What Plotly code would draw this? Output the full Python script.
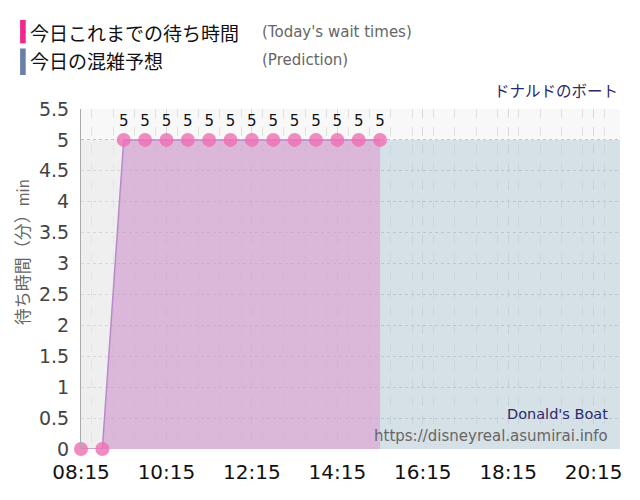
import plotly.graph_objects as go

DAY = "2024-05-01 "

# today's observed wait times (min)
wait_times = ["08:15", "08:45", "09:15", "09:45", "10:15", "10:45", "11:15", "11:45",
              "12:15", "12:45", "13:15", "13:45", "14:15", "14:45", "15:15"]
wait_values = [0, 0, 5, 5, 5, 5, 5, 5, 5, 5, 5, 5, 5, 5, 5]

# prediction (min)
pred_times = ["08:15", "08:45", "09:15", "09:45", "10:15", "10:45", "11:15", "11:45",
              "12:15", "12:45", "13:15", "13:45", "14:15", "14:45", "15:15", "15:45",
              "16:15", "16:45", "17:15", "17:45", "18:15", "18:45", "19:15", "19:45",
              "20:15", "20:45", "20:52"]
pred_values = [5] * 27

now_idx = pred_times.index(wait_times[-1])

JP = "Noto Sans CJK JP, sans-serif"

fig = go.Figure()

# prediction before "now" (greyed out) and after
fig.add_trace(go.Scatter(
    x=[DAY + t for t in pred_times[:now_idx + 1]], y=pred_values[:now_idx + 1],
    mode="lines", line=dict(width=0, shape="hv"), fill="tozeroy",
    fillcolor="rgba(232,232,232,0.55)", hoverinfo="skip", showlegend=False))
fig.add_trace(go.Scatter(
    x=[DAY + t for t in pred_times[now_idx:]], y=pred_values[now_idx:],
    mode="lines", line=dict(width=0, shape="hv"), fill="tozeroy",
    fillcolor="rgba(180,200,214,0.5)", hoverinfo="skip", showlegend=False))

fig.add_trace(go.Scatter(
    x=[DAY + t for t in wait_times], y=wait_values,
    mode="lines+markers+text",
    line=dict(color="#b98ac9", width=1.5),
    marker=dict(color="rgba(240,110,180,0.8)", size=14),
    fill="tozeroy", fillcolor="rgba(200,130,195,0.5)",
    text=[str(v) if v > 0 else "" for v in wait_values],
    textposition="top center", textfont=dict(size=15, color="#111"),
    cliponaxis=False, showlegend=False))

fig.update_xaxes(
    type="date",
    range=[DAY + "08:15", DAY + "20:52"],
    tick0=DAY + "08:15", dtick=2 * 3600 * 1000, tickformat="%H:%M",
    tickfont=dict(size=20, color="#111"), ticklabelstandoff=9,
    showgrid=True, gridcolor="#d8d8d8", griddash="dash", gridwidth=1,
    minor=dict(dtick=30 * 60 * 1000, showgrid=True, gridcolor="#e0e0e0", griddash="dash"),
    showline=False, zeroline=False, ticks="")
fig.update_yaxes(
    range=[0, 5.5], dtick=0.5,
    tickfont=dict(size=19, color="#444"), ticklabelstandoff=7,
    showgrid=True, gridcolor="#c4c4c4", griddash="dot", gridwidth=1,
    showline=True, linecolor="#aaaaaa", linewidth=1,
    zeroline=False, ticks="")

# y axis title
fig.add_annotation(text="待ち時間（分）<span style='font-size:15px'>min</span>",
                   xref="paper", yref="paper", x=-0.111, y=0.579,
                   xanchor="center", yanchor="middle", textangle=-90,
                   showarrow=False, font=dict(size=17, color="#666", family=JP))

# legend-like header
fig.add_shape(type="rect", xref="paper", yref="paper",
              x0=-0.113, x1=-0.1026, y0=1.193, y1=1.262,
              fillcolor="#f0288c", line=dict(width=0))
fig.add_shape(type="rect", xref="paper", yref="paper",
              x0=-0.113, x1=-0.1026, y0=1.100, y1=1.178,
              fillcolor="#6a7fa8", line=dict(width=0))
fig.add_annotation(text="今日これまでの待ち時間", xref="paper", yref="paper",
                   x=-0.098, y=1.226, xanchor="left", yanchor="middle",
                   showarrow=False, font=dict(size=19, color="#111", family=JP))
fig.add_annotation(text="(Today's wait times)", xref="paper", yref="paper",
                   x=0.332, y=1.226, xanchor="left", yanchor="middle",
                   showarrow=False, font=dict(size=15, color="#666"))
fig.add_annotation(text="今日の混雑予想", xref="paper", yref="paper",
                   x=-0.098, y=1.143, xanchor="left", yanchor="middle",
                   showarrow=False, font=dict(size=19, color="#111", family=JP))
fig.add_annotation(text="(Prediction)", xref="paper", yref="paper",
                   x=0.332, y=1.143, xanchor="left", yanchor="middle",
                   showarrow=False, font=dict(size=15, color="#666"))
fig.add_annotation(text="ドナルドのボート", xref="paper", yref="paper",
                   x=1.0, y=1.056, xanchor="right", yanchor="middle",
                   showarrow=False, font=dict(size=15.5, color="#2a2a6a", family=JP))
fig.add_annotation(text="Donald's Boat", xref="paper", yref="paper",
                   x=0.981, y=0.103, xanchor="right", yanchor="middle",
                   showarrow=False, font=dict(size=14.5, color="#2a2a6a"))
fig.add_annotation(text="https://disneyreal.asumirai.info", xref="paper", yref="paper",
                   x=0.981, y=0.038, xanchor="right", yanchor="middle",
                   showarrow=False, font=dict(size=15, color="#666"))

fig.update_layout(
    width=640, height=500,
    margin=dict(l=73, r=28, t=101, b=59),
    paper_bgcolor="white", plot_bgcolor="#f8f8f8",
    font=dict(family="DejaVu Sans, Noto Sans CJK JP, sans-serif"),
    showlegend=False,
)

fig.write_html("out.html")
